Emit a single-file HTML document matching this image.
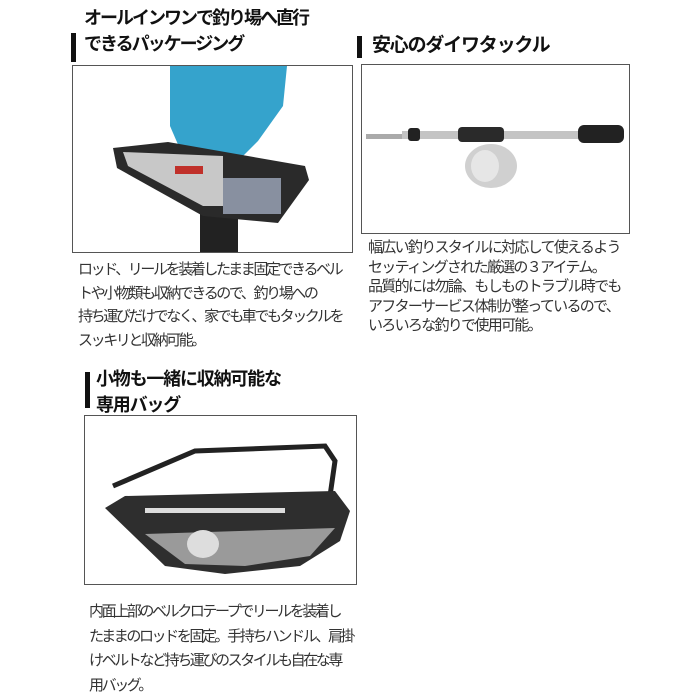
<!DOCTYPE html>
<html><head><meta charset="utf-8"><style>
body{margin:0;width:700px;height:700px;background:#fff;position:relative;overflow:hidden;font-family:"Liberation Sans","Noto Sans CJK JP",sans-serif;color:#222}
.a{position:absolute;white-space:nowrap}
.h{font-weight:bold;font-size:18px;color:#111;letter-spacing:-2px;line-height:26px}
.bar{position:absolute;background:#111;width:5px}
.box{position:absolute;border:1.5px solid #555;box-sizing:border-box;overflow:hidden;background:#fff}
.t{font-size:15px;letter-spacing:-2.4px;color:#333}
</style></head><body>
<div class="bar" style="left:71px;top:33px;height:29px"></div>
<div class="a h" style="left:84px;top:5px">オールインワンで釣り場へ直行<br>できるパッケージング</div>
<div class="bar" style="left:357px;top:36px;height:22px"></div>
<div class="a h" style="left:372px;top:33px;font-size:19px;letter-spacing:-1.2px">安心のダイワタックル</div>
<div class="bar" style="left:85px;top:372px;height:36px"></div>
<div class="a h" style="left:96px;top:366px;font-size:18px;letter-spacing:-1.2px">小物も一緒に収納可能な<br>専用バッグ</div>

<div class="box" style="left:72px;top:65px;width:281px;height:188px">
<svg width="281" height="188">
<path d="M97 0 H214 L210 40 L185 75 L170 90 L110 90 L97 60 Z" fill="#35a3cc"/>
<rect x="127" y="135" width="38" height="53" fill="#222"/>
<path d="M40 82 L95 76 L232 100 L236 114 L205 157 L130 150 L44 102 Z" fill="#2a2a2a"/>
<path d="M50 86 L150 90 L150 140 L130 140 L55 100 Z" fill="#c8c8c8"/>
<rect x="150" y="112" width="58" height="36" fill="#8890a0"/>
<rect x="102" y="100" width="28" height="8" fill="#c0302a"/>
</svg></div>

<div class="box" style="left:361px;top:64px;width:269px;height:170px">
<svg width="269" height="170">
<rect x="4" y="69" width="45" height="5" fill="#aaa"/>
<rect x="40" y="66" width="220" height="8" fill="#c4c4c4"/>
<rect x="46" y="63" width="12" height="13" rx="3" fill="#222"/>
<rect x="96" y="62" width="46" height="15" rx="4" fill="#2a2a2a"/>
<rect x="216" y="60" width="46" height="18" rx="6" fill="#222"/>
<ellipse cx="129" cy="101" rx="26" ry="22" fill="#d0d0d0"/>
<ellipse cx="123" cy="101" rx="14" ry="16" fill="#e6e6e6"/>
</svg></div>

<div class="box" style="left:84px;top:415px;width:273px;height:170px">
<svg width="273" height="170">
<path d="M28 70 L110 35 L240 30 L250 45 L245 80" fill="none" stroke="#222" stroke-width="5"/>
<path d="M20 92 L40 80 L250 75 L265 95 L255 125 L215 150 L140 158 L80 150 Z" fill="#2e2e2e"/>
<path d="M60 118 L250 112 L225 140 L160 150 L100 148 Z" fill="#9a9a9a"/>
<rect x="60" y="92" width="140" height="5" fill="#ddd"/>
<ellipse cx="118" cy="128" rx="16" ry="14" fill="#ddd"/>
</svg></div>

<div class="a t" style="left:78px;top:258px;line-height:23.5px">ロッド、リールを装着したまま固定できるベル<br>トや小物類も収納できるので、釣り場への<br>持ち運びだけでなく、家でも車でもタックルを<br>スッキリと収納可能。</div>
<div class="a t" style="left:368px;top:238px;line-height:19.5px;letter-spacing:-1.7px">幅広い釣りスタイルに対応して使えるよう<br>セッティングされた厳選の３アイテム。<br>品質的には勿論、もしものトラブル時でも<br>アフターサービス体制が整っているので、<br>いろいろな釣りで使用可能。</div>
<div class="a t" style="left:89px;top:600px;line-height:24.5px">内面上部のベルクロテープでリールを装着し<br>たままのロッドを固定。手持ちハンドル、肩掛<br>けベルトなど持ち運びのスタイルも自在な専<br>用バッグ。</div>
</body></html>
